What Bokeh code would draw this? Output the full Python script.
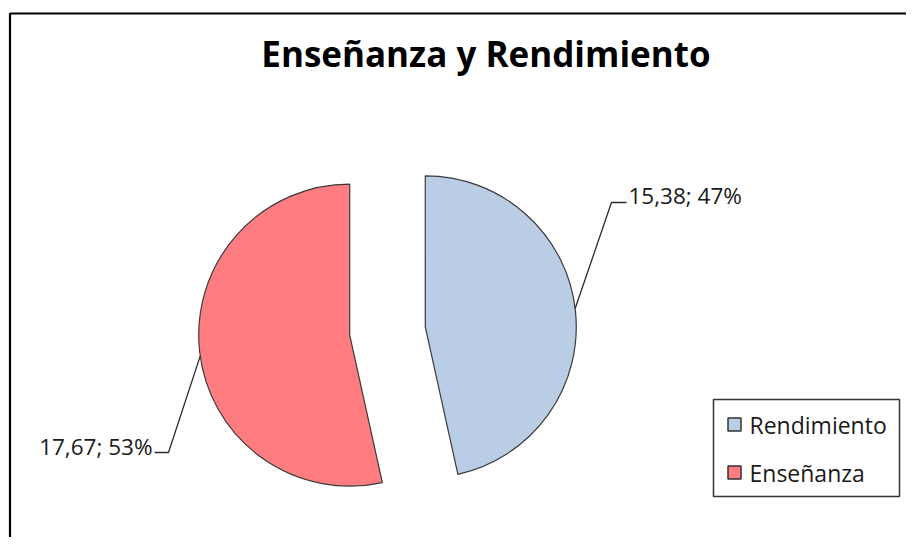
import math
from bokeh.plotting import figure
from bokeh.models import Range1d
from bokeh.core.properties import value
from bokeh.embed import file_html
from bokeh.resources import INLINE

# ---- data ----
title_text = "Enseñanza  y Rendimiento"
categories = ["Rendimiento", "Enseñanza"]
values = [15.38, 17.67]
colors = ["#B9CDE5", "#FF7C80"]

# ---- layout (screen pixel helpers) ----
W, H = 906, 537
def px(x):
    return x
def py(y):
    return H - y

FONT = "Open Sans"
p = figure(width=W, height=H, x_range=Range1d(0, W), y_range=Range1d(0, H),
           output_backend="svg", toolbar_location=None, min_border=0,
           x_axis_location=None, y_axis_location=None)
p.grid.visible = False
p.outline_line_color = None
p.background_fill_color = "white"
p.border_fill_color = "white"

# chart area border (extends past the right / bottom edge of the view)
p.quad(left=[px(9.5)], right=[px(9.5) + 2000], top=[py(13)], bottom=[py(13) - 2000],
       fill_color=None, line_color="black", line_width=2.2)

# title
p.text(x=[px(490)], y=[py(53)], text=[title_text], text_align="center",
       text_baseline="middle", text_font=value(FONT), text_font_style="bold",
       text_font_size="35px", text_color="black")

# ---- exploded pie ----
cx0, cy0 = px(387), py(330.5)
R = 151
explode = 38
total = sum(values)
start = math.pi / 2
centers = []
for cat, v, col in zip(categories, values, colors):
    frac = v / total
    end = start - 2 * math.pi * frac
    mid = (start + end) / 2
    cx = cx0 + explode * math.cos(mid)
    cy = cy0 + explode * math.sin(mid)
    centers.append((cx, cy))
    p.wedge(x=[cx], y=[cy], radius=R, start_angle=start, end_angle=end,
            direction="clock", fill_color=col, line_color="#3a3a3a", line_width=1.2)
    start = end

def fmt(v):
    pct = round(100 * v / total)
    return f"{v:.2f}".replace(".", ",") + f"; {pct}%"

# data labels with leader lines
lab_cfg = [
    dict(ang=7, elbow=(611, 202), end=(626, 202), tx=628, ty=195, align="left"),
    dict(ang=188, elbow=(168, 452), end=(154, 452), tx=152, ty=446, align="right"),
]
for (cx, cy), v, cfg in zip(centers, values, lab_cfg):
    a = math.radians(cfg["ang"])
    sx = cx + R * math.cos(a)
    sy = cy + R * math.sin(a)
    p.line(x=[sx, px(cfg["elbow"][0]), px(cfg["end"][0])],
           y=[sy, py(cfg["elbow"][1]), py(cfg["end"][1])],
           line_color="#2a2a2a", line_width=1.3)
    p.text(x=[px(cfg["tx"])], y=[py(cfg["ty"])], text=[fmt(v)],
           text_align=cfg["align"], text_baseline="middle", text_font=value(FONT),
           text_font_size="22.5px", text_color="#1a1a1a")

# ---- legend ----
p.quad(left=[px(713)], right=[px(899)], top=[py(399)], bottom=[py(496)],
       fill_color="white", line_color="#333333", line_width=1.5)
leg_y = [424, 472]
for cat, col, ly in zip(categories, colors, leg_y):
    p.scatter(x=[px(734)], y=[py(ly)], marker="square", size=13,
              fill_color=col, line_color="#333333", line_width=1.5)
    p.text(x=[px(749)], y=[py(ly)], text=[cat], text_align="left",
           text_baseline="middle", text_font=value(FONT),
           text_font_size="23px", text_color="#1a1a1a")

open("out.html", "w").write(file_html(p, INLINE))
